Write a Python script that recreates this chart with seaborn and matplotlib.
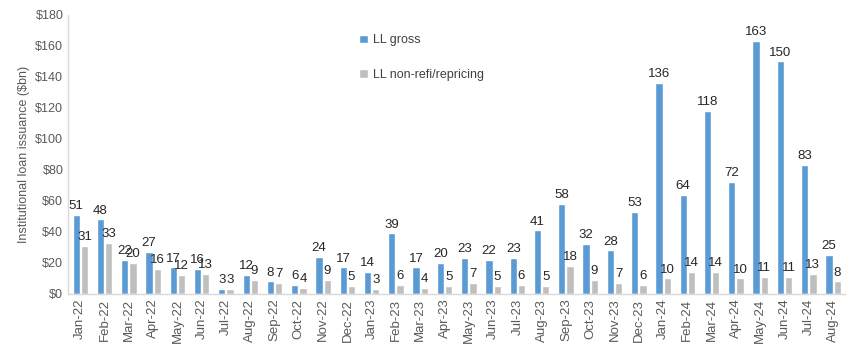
import numpy as np
import pandas as pd
import seaborn as sns
import matplotlib.pyplot as plt
from matplotlib.ticker import FuncFormatter

months = ['Jan-22', 'Feb-22', 'Mar-22', 'Apr-22', 'May-22', 'Jun-22', 'Jul-22', 'Aug-22',
          'Sep-22', 'Oct-22', 'Nov-22', 'Dec-22', 'Jan-23', 'Feb-23', 'Mar-23', 'Apr-23',
          'May-23', 'Jun-23', 'Jul-23', 'Aug-23', 'Sep-23', 'Oct-23', 'Nov-23', 'Dec-23',
          'Jan-24', 'Feb-24', 'Mar-24', 'Apr-24', 'May-24', 'Jun-24', 'Jul-24', 'Aug-24']
ll_gross = [51, 48, 22, 27, 17, 16, 3, 12, 8, 6, 24, 17, 14, 39, 17, 20,
            23, 22, 23, 41, 58, 32, 28, 53, 136, 64, 118, 72, 163, 150, 83, 25]
ll_nonrefi = [31, 33, 20, 16, 12, 13, 3, 9, 7, 4, 9, 5, 3, 6, 4, 5,
              7, 5, 6, 5, 18, 9, 7, 6, 10, 14, 14, 10, 11, 11, 13, 8]
series = ['LL gross', 'LL non-refi/repricing']

df = pd.concat([
    pd.DataFrame({'month': months, 'value': ll_gross, 'series': series[0]}),
    pd.DataFrame({'month': months, 'value': ll_nonrefi, 'series': series[1]}),
])

sns.set_theme(style='white')
plt.rcParams['font.family'] = ['Liberation Sans', 'DejaVu Sans']

fig = plt.figure(figsize=(8.52, 3.54), dpi=100)
ax = fig.add_axes([0.08, 0.17, 0.912, 0.788])

sns.barplot(data=df, x='month', y='value', hue='series', order=months,
            hue_order=series, palette=['#5B9BD5', '#BFBFBF'],
            width=0.68, gap=0.12, ax=ax, saturation=1)

for c in ax.containers:
    ax.bar_label(c, fmt='%d', padding=2, fontsize=9.5, color='#262626')

ax.set_ylim(0, 180)
ax.set_yticks(np.arange(0, 181, 20))
ax.yaxis.set_major_formatter(FuncFormatter(lambda v, p: f'${v:.0f}'))
ax.set_xlim(-0.5, len(months) - 0.5)
ax.set_xlabel('')
ax.set_ylabel('Institutional loan issuance ($bn)', fontsize=9, color='#595959')
ax.tick_params(axis='x', labelrotation=90, labelsize=9.5, colors='#595959', length=0)
ax.tick_params(axis='y', labelsize=9, colors='#595959', length=0)

for s in ['top', 'right']:
    ax.spines[s].set_visible(False)
for s in ['left', 'bottom']:
    ax.spines[s].set_color('#D9D9D9')
    ax.spines[s].set_linewidth(1)

ax.legend(loc='upper left', bbox_to_anchor=(0.36, 0.97), frameon=False,
          fontsize=9, handlelength=0.7, handleheight=0.7, handletextpad=0.4,
          labelspacing=1.8, labelcolor='#404040')

fig.savefig('out.png', dpi=100)
